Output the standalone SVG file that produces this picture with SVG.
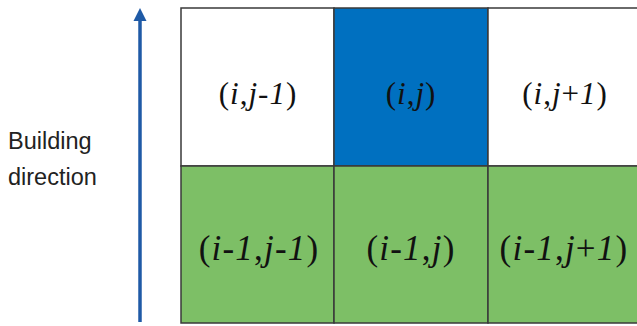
<svg xmlns="http://www.w3.org/2000/svg" width="637" height="326" viewBox="0 0 637 326">
<defs>
<style>
.cell{stroke:#3a3a3a;stroke-width:1.5}
.w{fill:#ffffff}
.b{fill:#0070c0}
.g{fill:#7dbf66}
.lbl{font-family:"Liberation Serif","Times New Roman",serif;fill:#111;text-anchor:middle}
.top{font-size:31px;letter-spacing:1px}
.bot{font-size:35px;letter-spacing:1.2px}
.it{font-style:italic}
.side{font-family:"Liberation Sans",Arial,sans-serif;font-size:23.5px;fill:#222}
</style>
</defs>
<rect width="637" height="326" fill="#ffffff"/>
<g id="connectors">
<line x1="140" y1="322" x2="140" y2="18" stroke="#1f5aa6" stroke-width="3.5"/>
<polygon points="140,8 146.5,21 133.5,21" fill="#1f5aa6"/>
</g>
<g id="label-building">
<text class="side" x="8" y="149">Building</text>
<text class="side" x="8" y="185">direction</text>
</g>
<g id="cell-i-jm1">
<rect class="cell w" x="181" y="8" width="153" height="158"/>
<text class="lbl top" x="258" y="104">(<tspan class="it">i</tspan>,<tspan class="it">j</tspan>-<tspan class="it">1</tspan>)</text>
</g>
<g id="cell-i-j">
<rect class="cell b" x="334" y="8" width="154" height="158"/>
<text class="lbl top" x="411" y="104">(<tspan class="it">i</tspan>,<tspan class="it">j</tspan>)</text>
</g>
<g id="cell-i-jp1">
<rect class="cell w" x="488" y="8" width="152" height="158"/>
<text class="lbl top" x="565" y="104">(<tspan class="it">i</tspan>,<tspan class="it">j</tspan>+<tspan class="it">1</tspan>)</text>
</g>
<g id="cell-im1-jm1">
<rect class="cell g" x="181" y="166" width="153" height="157"/>
<text class="lbl bot" x="259" y="260">(<tspan class="it">i</tspan>-<tspan class="it">1</tspan>,<tspan class="it">j</tspan>-<tspan class="it">1</tspan>)</text>
</g>
<g id="cell-im1-j">
<rect class="cell g" x="334" y="166" width="154" height="157"/>
<text class="lbl bot" x="411" y="260">(<tspan class="it">i</tspan>-<tspan class="it">1</tspan>,<tspan class="it">j</tspan>)</text>
</g>
<g id="cell-im1-jp1">
<rect class="cell g" x="488" y="166" width="152" height="157"/>
<text class="lbl bot" x="564" y="260">(<tspan class="it">i</tspan>-<tspan class="it">1</tspan>,<tspan class="it">j</tspan>+<tspan class="it">1</tspan>)</text>
</g>
</svg>
